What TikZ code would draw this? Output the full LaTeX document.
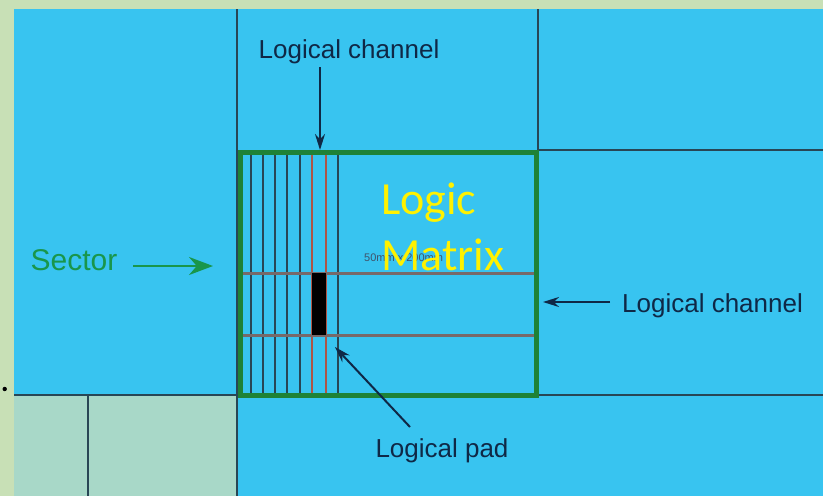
\documentclass[tikz,border=0pt]{standalone}
\usepackage{fontspec}
\setmainfont{Liberation Sans}
\newfontfamily\calibri{Carlito}
\usetikzlibrary{arrows.meta}
\definecolor{bgout}{RGB}{200,224,182}
\definecolor{sky}{RGB}{56,196,240}
\definecolor{teal}{RGB}{168,216,200}
\definecolor{gridline}{RGB}{40,70,85}
\definecolor{boxgreen}{RGB}{30,130,55}
\definecolor{padred}{RGB}{175,85,70}
\definecolor{hline}{RGB}{120,105,105}
\definecolor{navy}{RGB}{15,40,70}
\definecolor{sectgreen}{RGB}{25,150,75}
\tikzset{
  lbl/.style={font=\fontsize{26}{28}\selectfont, text=navy, inner sep=0pt},
  arr/.style={-{Stealth[length=16pt,width=10pt]}, line width=2pt, draw=navy},
  garr/.style={-{Stealth[length=24pt,width=18pt]}, line width=2.4pt, draw=sectgreen},
  cellline/.style={draw=gridline, line width=1.3pt},
  redline/.style={draw=padred, line width=1.6pt},
  rowline/.style={draw=hline, line width=3pt},
  frame/.style={draw=gridline, line width=1.7pt},
}
\begin{document}
\begin{tikzpicture}[x=1pt,y=-1pt]
\useasboundingbox (0,0) rectangle (823,496);
% backgrounds
\fill[bgout] (0,0) rectangle (823,496);
\fill[sky] (14,9) rectangle (823,496);
\fill[teal] (14,395) rectangle (237,496);
% outer grid lines
\draw[frame] (237,9) -- (237,496);
\draw[frame] (538,9) -- (538,150);
\draw[frame] (538,150) -- (823,150);
\draw[frame] (14,395) -- (823,395);
\draw[frame] (88,395) -- (88,496);
% bullet
\fill[black] (4.7,389) circle (2.2);
% inner channels
\foreach \x in {251,263,275,287,300,338} \draw[cellline] (\x,152) -- (\x,395);
\draw[redline] (312,152) -- (312,395);
\draw[redline] (326,152) -- (326,395);
% small text behind
\node[font=\fontsize{11}{12}\selectfont, text=navy!80, anchor=base west, inner sep=0pt] (dim) at (364,261) {50mm x 200mm};
% rows
\draw[rowline] (240,273) -- (536,273);
\draw[rowline] (240,335) -- (536,335);
% pad
\fill[black] (312,273) rectangle (326,335);
\coordinate (padc) at (335,347);
% sector box
\node[draw=boxgreen, line width=5pt, minimum width=296pt, minimum height=243pt, inner sep=0pt] (sector) at (388,273.5) {};
% yellow text
\node[font=\calibri\fontsize{46}{50}\selectfont, text=yellow, anchor=base west, inner sep=0pt] (logic) at (381,214) {Logic};
\node[font=\calibri\fontsize{46}{50}\selectfont, text=yellow, anchor=base west, inner sep=0pt] (matrix) at (381,270) {Matrix};
% labels
\node[lbl, anchor=base] (toplbl) at (349,58) {Logical channel};
\node[lbl, anchor=base west] (rightlbl) at (622,312) {Logical channel};
\node[lbl, anchor=base] (padlbl) at (442,457) {Logical pad};
\node[lbl, font=\fontsize{30}{32}\selectfont, text=sectgreen, anchor=base] (sectlbl) at (74,270) {Sector};
% arrows
\coordinate (topA) at (320,150);
\draw[arr] (320,67) -- (topA);
\coordinate (rightS) at (610,302);
\coordinate (rightA) at (543,302);
\draw[arr] (rightS) -- (rightA);
\coordinate (padS) at (410,427);
\draw[arr] (padS) -- (padc);
\coordinate (sectS) at (133,266);
\coordinate (sectA) at (213,266);
\draw[garr] (sectS) -- (sectA);
\end{tikzpicture}
\end{document}
